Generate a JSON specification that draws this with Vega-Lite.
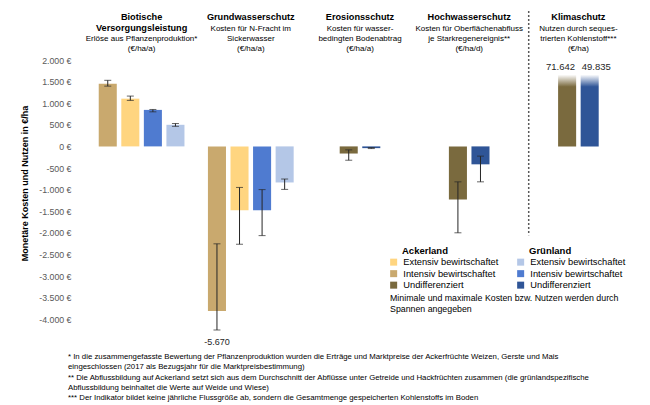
{
  "$schema": "https://vega.github.io/schema/vega-lite/v6.json",
  "width": 546,
  "height": 270,
  "autosize": "none",
  "padding": {"left": 87, "top": 60, "right": 17, "bottom": 75},
  "config": {
    "font": "Liberation Sans",
    "view": {"stroke": null},
    "locale": {"number": {"decimal": ",", "thousands": ".", "grouping": [3], "currency": ["", " €"], "minus": "-"}},
    "axisY": {
      "values": [-4000, -3500, -3000, -2500, -2000, -1500, -1000, -500, 0, 500, 1000, 1500, 2000],
      "tickCount": 13,
      "labelOverlap": false,
      "grid": true,
      "gridColor": "#D9D9D9",
      "gridWidth": 1,
      "domain": false,
      "ticks": false,
      "labelFontSize": 8.8,
      "labelColor": "#595959",
      "labelPadding": 16,
      "titleFontSize": 9,
      "titleFontWeight": "bold",
      "titleColor": "#000000"
    },
    "legend": {
      "orient": "none",
      "symbolType": "square",
      "symbolSize": 49,
      "symbolStrokeWidth": 0,
      "labelFontSize": 9.3,
      "labelColor": "#000000",
      "titleFontSize": 9.5,
      "titleFontWeight": "bold",
      "titleColor": "#000000",
      "rowPadding": 1.5,
      "labelOffset": 5,
      "titlePadding": 2,
      "padding": 0
    }
  },
  "title": {
    "text": [
      "* In die zusammengefasste Bewertung der Pflanzenproduktion wurden die Erträge und Marktpreise der Ackerfrüchte Weizen, Gerste und Mais",
      "eingeschlossen (2017 als Bezugsjahr für die Marktpreisbestimmung)",
      "** Die Abflussbildung auf Ackerland setzt sich aus dem Durchschnitt der Abflüsse unter Getreide und Hackfrüchten zusammen (die grünlandspezifische",
      "Abflussbildung beinhaltet die Werte auf Weide und Wiese)",
      "*** Der Indikator bildet keine jährliche Flussgröße ab, sondern die Gesamtmenge gespeicherten Kohlenstoffs im Boden"
    ],
    "orient": "bottom",
    "anchor": "start",
    "frame": "group",
    "dx": -19,
    "offset": 6,
    "fontSize": 7.8,
    "fontWeight": "normal",
    "color": "#000000",
    "lineHeight": 10.3
  },
  "datasets": {
    "bars": [
      {"gruppe": "Biotische Versorgungsleistung", "flaeche": "Ackerland", "art": "Intensiv bewirtschaftet", "slot": "s1", "wert": 1450, "min": 1395, "max": 1530},
      {"gruppe": "Biotische Versorgungsleistung", "flaeche": "Ackerland", "art": "Extensiv bewirtschaftet", "slot": "s2", "wert": 1105, "min": 1065, "max": 1165},
      {"gruppe": "Biotische Versorgungsleistung", "flaeche": "Grünland", "art": "Intensiv bewirtschaftet", "slot": "s3", "wert": 845, "min": 800, "max": 855},
      {"gruppe": "Biotische Versorgungsleistung", "flaeche": "Grünland", "art": "Extensiv bewirtschaftet", "slot": "s4", "wert": 500, "min": 465, "max": 530},
      {"gruppe": "Grundwasserschutz", "flaeche": "Ackerland", "art": "Intensiv bewirtschaftet", "slot": "s1", "wert": -3810, "min": -5670, "max": -2255},
      {"gruppe": "Grundwasserschutz", "flaeche": "Ackerland", "art": "Extensiv bewirtschaftet", "slot": "s2", "wert": -1480, "min": -2265, "max": -950},
      {"gruppe": "Grundwasserschutz", "flaeche": "Grünland", "art": "Intensiv bewirtschaftet", "slot": "s3", "wert": -1480, "min": -2065, "max": -1000},
      {"gruppe": "Grundwasserschutz", "flaeche": "Grünland", "art": "Extensiv bewirtschaftet", "slot": "s4", "wert": -835, "min": -995, "max": -755},
      {"gruppe": "Erosionsschutz", "flaeche": "Ackerland", "art": "Undifferenziert", "slot": "s2", "wert": -165, "min": -320, "max": -80},
      {"gruppe": "Erosionsschutz", "flaeche": "Grünland", "art": "Undifferenziert", "slot": "s3", "wert": -40, "min": -50, "max": -28},
      {"gruppe": "Hochwasserschutz", "flaeche": "Ackerland", "art": "Undifferenziert", "slot": "s2", "wert": -1230, "min": -2000, "max": -820},
      {"gruppe": "Hochwasserschutz", "flaeche": "Grünland", "art": "Undifferenziert", "slot": "s3", "wert": -415, "min": -820, "max": -225},
      {"gruppe": "Klimaschutz", "flaeche": "Ackerland", "art": "Undifferenziert", "slot": "s2", "wert": 71642},
      {"gruppe": "Klimaschutz", "flaeche": "Grünland", "art": "Undifferenziert", "slot": "s3", "wert": 49835}
    ],
    "header": [
      {"gruppe": "Biotische Versorgungsleistung", "titel": "Biotische\nVersorgungsleistung", "untertitel": "\nErlöse aus Pflanzenproduktion*\n(€/ha/a)"},
      {"gruppe": "Grundwasserschutz", "titel": "Grundwasserschutz", "untertitel": "Kosten für N-Fracht im\nSickerwasser\n(€/ha/a)"},
      {"gruppe": "Erosionsschutz", "titel": "Erosionsschutz", "untertitel": "Kosten für wasser-\nbedingten Bodenabtrag\n(€/ha/a)"},
      {"gruppe": "Hochwasserschutz", "titel": "Hochwasserschutz", "untertitel": "Kosten für Oberflächenabfluss\nje Starkregenereignis**\n(€/ha/d)"},
      {"gruppe": "Klimaschutz", "titel": "Klimaschutz", "untertitel": "Nutzen durch seques-\ntrierten Kohlenstoff***\n(€/ha)"}
    ],
    "hinweis": [
      {"text": "Minimale und maximale Kosten bzw. Nutzen werden durch\nSpannen angegeben"}
    ]
  },
  "encoding": {
    "x": {
      "field": "gruppe",
      "type": "nominal",
      "scale": {
        "domain": ["Biotische Versorgungsleistung", "Grundwasserschutz", "Erosionsschutz", "Hochwasserschutz", "Klimaschutz"],
        "paddingInner": 0,
        "paddingOuter": 0
      },
      "axis": null
    }
  },
  "resolve": {"scale": {"y": "independent"}, "axis": {"y": "independent"}},
  "layer": [
    {
      "layer": [
        {
          "data": {"name": "header"},
          "mark": {"type": "text", "fontWeight": "bold", "fontSize": 9.2, "baseline": "top", "align": "center", "lineBreak": "\n", "lineHeight": 11, "color": "#000000"},
          "encoding": {
            "y": {"datum": 3088, "type": "quantitative", "scale": {"domain": [-4250, 2000], "nice": false}, "axis": null},
            "text": {"field": "titel"}
          }
        },
        {
          "data": {"name": "header"},
          "mark": {"type": "text", "fontSize": 8, "baseline": "top", "align": "center", "lineBreak": "\n", "lineHeight": 10, "color": "#000000"},
          "encoding": {
            "y": {"datum": 2817, "type": "quantitative", "axis": null},
            "text": {"field": "untertitel"}
          }
        },
        {
          "data": {"name": "hinweis"},
          "mark": {"type": "rule", "strokeDash": [2, 2], "strokeWidth": 1.5, "color": "#595959"},
          "encoding": {
            "x": {"datum": "Klimaschutz", "bandPosition": 0.045},
            "y": {"datum": 3134, "type": "quantitative", "axis": null},
            "y2": {"datum": -2060}
          }
        }
      ]
    },
    {
      "resolve": {"scale": {"color": "independent"}, "legend": {"color": "independent"}},
      "layer": [
        {
          "data": {"name": "hinweis"},
          "mark": {"type": "rect", "color": "#ffffff"},
          "encoding": {
            "x": {"datum": "Erosionsschutz", "bandPosition": 0.7},
            "x2": {"datum": "Klimaschutz", "bandPosition": 1},
            "y": {
              "datum": -2065,
              "type": "quantitative",
              "title": "Monetäre Kosten und Nutzen in €/ha",
              "scale": {"domain": [-4250, 2000], "nice": false, "clamp": true},
              "axis": {
                "orient": "left",
                "values": [-4000, -3500, -3000, -2500, -2000, -1500, -1000, -500, 0, 500, 1000, 1500, 2000],
                "tickCount": 13,
                "format": "$,.0f",
                "titleX": -58,
                "titleY": 123
              }
            },
            "y2": {"datum": -3935}
          }
        },
        {
          "data": {"name": "hinweis"},
          "mark": {"type": "text", "align": "left", "baseline": "top", "fontSize": 8.8, "lineBreak": "\n", "lineHeight": 10.6, "color": "#000000"},
          "encoding": {
            "x": {"datum": "Erosionsschutz", "bandPosition": 0.775},
            "y": {"datum": -3420, "type": "quantitative", "title": "Monetäre Kosten und Nutzen in €/ha"},
            "text": {"field": "text"}
          }
        },
        {
          "data": {"name": "bars"},
          "transform": [{"filter": "datum.flaeche === 'Ackerland' && datum.gruppe !== 'Klimaschutz'"}],
          "mark": {"type": "bar"},
          "encoding": {
            "xOffset": {"field": "slot", "type": "nominal", "scale": {"domain": ["s1", "s2", "s3", "s4"], "paddingInner": 0.2, "paddingOuter": 0.52}},
            "y": {
              "field": "wert",
              "type": "quantitative",
              "title": "Monetäre Kosten und Nutzen in €/ha",
              "axis": {
                "orient": "left",
                "values": [-4000, -3500, -3000, -2500, -2000, -1500, -1000, -500, 0, 500, 1000, 1500, 2000],
                "tickCount": 13,
                "format": "$,.0f",
                "titleX": -58,
                "titleY": 123
              }
            },
            "color": {
              "field": "art",
              "type": "nominal",
              "scale": {"domain": ["Extensiv bewirtschaftet", "Intensiv bewirtschaftet", "Undifferenziert"], "range": ["#FFD580", "#C9A96E", "#7A6A3E"]},
              "legend": {"title": "Ackerland", "legendX": 302, "legendY": 186, "encode": {"title": {"update": {"dx": {"value": 13}}}}}
            }
          }
        },
        {
          "data": {"name": "bars"},
          "transform": [{"filter": "datum.flaeche === 'Grünland' && datum.gruppe !== 'Klimaschutz'"}],
          "mark": {"type": "bar"},
          "encoding": {
            "xOffset": {"field": "slot", "type": "nominal"},
            "y": {"field": "wert", "type": "quantitative", "title": "Monetäre Kosten und Nutzen in €/ha"},
            "color": {
              "field": "art",
              "type": "nominal",
              "scale": {"domain": ["Extensiv bewirtschaftet", "Intensiv bewirtschaftet", "Undifferenziert"], "range": ["#B4C7E7", "#4F7BD0", "#2F5597"]},
              "legend": {"title": "Grünland", "legendX": 429, "legendY": 186, "encode": {"title": {"update": {"dx": {"value": 13}}}}}
            }
          }
        },
        {
          "data": {"name": "bars"},
          "transform": [{"filter": "datum.flaeche === 'Ackerland' && datum.gruppe === 'Klimaschutz'"}],
          "mark": {"type": "bar", "color": {"gradient": "linear", "x1": 0, "y1": 0, "x2": 0, "y2": 1, "stops": [{"offset": 0, "color": "#ffffff"}, {"offset": 0.17, "color": "#ffffff"}, {"offset": 0.31, "color": "#7A6A3E"}, {"offset": 1, "color": "#7A6A3E"}]}},
          "encoding": {
            "xOffset": {"field": "slot", "type": "nominal"},
            "y": {"field": "wert", "type": "quantitative", "title": "Monetäre Kosten und Nutzen in €/ha"}
          }
        },
        {
          "data": {"name": "bars"},
          "transform": [{"filter": "datum.flaeche === 'Grünland' && datum.gruppe === 'Klimaschutz'"}],
          "mark": {"type": "bar", "color": {"gradient": "linear", "x1": 0, "y1": 0, "x2": 0, "y2": 1, "stops": [{"offset": 0, "color": "#ffffff"}, {"offset": 0.17, "color": "#ffffff"}, {"offset": 0.31, "color": "#2F5597"}, {"offset": 1, "color": "#2F5597"}]}},
          "encoding": {
            "xOffset": {"field": "slot", "type": "nominal"},
            "y": {"field": "wert", "type": "quantitative", "title": "Monetäre Kosten und Nutzen in €/ha"}
          }
        },
        {
          "data": {"name": "bars"},
          "transform": [{"filter": "datum.gruppe === 'Klimaschutz' && datum.flaeche === 'Ackerland'"}],
          "mark": {"type": "text", "baseline": "top", "align": "right", "dx": 8, "dy": 2, "fontSize": 9.5, "color": "#262626"},
          "encoding": {
            "xOffset": {"field": "slot", "type": "nominal"},
            "y": {"field": "wert", "type": "quantitative", "title": "Monetäre Kosten und Nutzen in €/ha"},
            "text": {"field": "wert", "type": "quantitative", "format": ",.0f"}
          }
        },
        {
          "data": {"name": "bars"},
          "transform": [{"filter": "datum.gruppe === 'Klimaschutz' && datum.flaeche === 'Grünland'"}],
          "mark": {"type": "text", "baseline": "top", "align": "left", "dx": -8, "dy": 2, "fontSize": 9.5, "color": "#262626"},
          "encoding": {
            "xOffset": {"field": "slot", "type": "nominal"},
            "y": {"field": "wert", "type": "quantitative", "title": "Monetäre Kosten und Nutzen in €/ha"},
            "text": {"field": "wert", "type": "quantitative", "format": ",.0f"}
          }
        },
        {
          "data": {"name": "bars"},
          "transform": [{"filter": "isValid(datum.min)"}],
          "mark": {"type": "rule", "color": "#262626", "strokeWidth": 1},
          "encoding": {
            "xOffset": {"field": "slot", "type": "nominal"},
            "y": {"field": "min", "type": "quantitative", "title": "Monetäre Kosten und Nutzen in €/ha"},
            "y2": {"field": "max"}
          }
        },
        {
          "data": {"name": "bars"},
          "transform": [{"filter": "isValid(datum.min)"}],
          "mark": {"type": "tick", "color": "#262626", "thickness": 1, "size": 7, "orient": "horizontal"},
          "encoding": {
            "xOffset": {"field": "slot", "type": "nominal"},
            "y": {"field": "min", "type": "quantitative", "title": "Monetäre Kosten und Nutzen in €/ha"}
          }
        },
        {
          "data": {"name": "bars"},
          "transform": [{"filter": "isValid(datum.max)"}],
          "mark": {"type": "tick", "color": "#262626", "thickness": 1, "size": 7, "orient": "horizontal"},
          "encoding": {
            "xOffset": {"field": "slot", "type": "nominal"},
            "y": {"field": "max", "type": "quantitative", "title": "Monetäre Kosten und Nutzen in €/ha"}
          }
        },
        {
          "data": {"name": "bars"},
          "transform": [{"filter": "isValid(datum.min) && datum.min < -4250"}],
          "mark": {"type": "text", "baseline": "top", "dy": 8, "fontSize": 9, "color": "#262626"},
          "encoding": {
            "xOffset": {"field": "slot", "type": "nominal"},
            "y": {"field": "min", "type": "quantitative", "title": "Monetäre Kosten und Nutzen in €/ha"},
            "text": {"field": "min", "type": "quantitative", "format": ",.0f"}
          }
        }
      ]
    }
  ]
}
